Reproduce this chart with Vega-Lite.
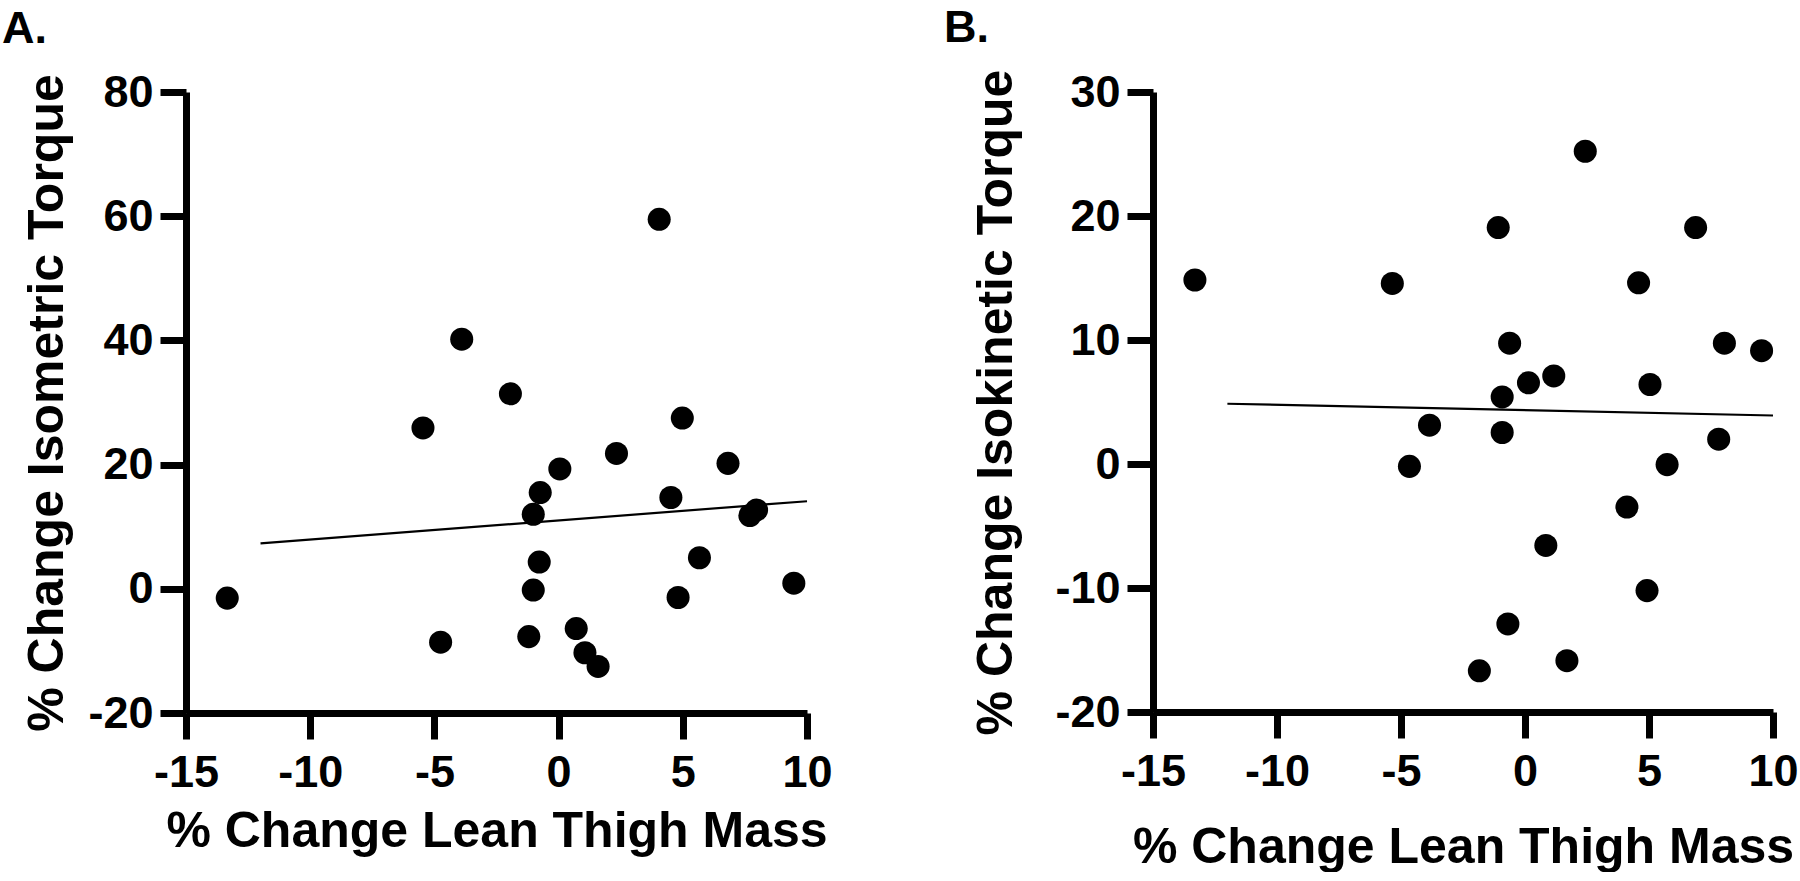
{
  "$schema": "https://vega.github.io/schema/vega-lite/v6.json",
  "padding": {"left": 2, "top": 6, "right": 0, "bottom": 0},
  "background": "white",
  "bounds": "flush",
  "spacing": 346,
  "config": {
    "view": {"stroke": null},
    "font": "Liberation Sans",
    "axis": {
      "domainColor": "black", "domainWidth": 7,
      "tickColor": "black", "tickWidth": 7, "tickSize": 26,
      "labelFont": "Liberation Sans", "labelFontWeight": "bold", "labelFontSize": 45, "labelColor": "black",
      "titleFont": "Liberation Sans", "titleFontWeight": "bold", "titleFontSize": 50, "titleColor": "black",
      "grid": false, "labelFlush": false, "labelOverlap": false
    },
    "title": {"font": "Liberation Sans", "fontWeight": "bold", "fontSize": 45, "color": "black", "anchor": "start", "frame": "group"}
  },
  "datasets": {
    "ptsA": [
      {"lean": -13.34, "torque": -1.5},
      {"lean": -5.46, "torque": 25.9},
      {"lean": -4.75, "torque": -8.6},
      {"lean": -3.9, "torque": 40.2},
      {"lean": -1.94, "torque": 31.4},
      {"lean": -0.74, "torque": 15.5},
      {"lean": -1.02, "torque": 12.0},
      {"lean": -0.78, "torque": 4.3},
      {"lean": -1.02, "torque": -0.2},
      {"lean": -1.2, "torque": -7.7},
      {"lean": 0.05, "torque": 19.3},
      {"lean": 0.71, "torque": -6.4},
      {"lean": 1.06, "torque": -10.3},
      {"lean": 1.59, "torque": -12.5},
      {"lean": 2.33, "torque": 21.8},
      {"lean": 4.05, "torque": 59.5},
      {"lean": 4.52, "torque": 14.7},
      {"lean": 4.98, "torque": 27.5},
      {"lean": 4.81, "torque": -1.4},
      {"lean": 6.82, "torque": 20.2},
      {"lean": 5.67, "torque": 5.0},
      {"lean": 7.7, "torque": 11.8},
      {"lean": 7.97, "torque": 12.7},
      {"lean": 9.47, "torque": 0.9}
    ],
    "lineA": [
      {"lean": -12, "torque": 7.3},
      {"lean": 10, "torque": 14.1}
    ],
    "ptsB": [
      {"lean": -13.31, "torque": 14.84},
      {"lean": -5.35, "torque": 14.56},
      {"lean": -4.66, "torque": -0.19},
      {"lean": -3.85, "torque": 3.13},
      {"lean": -1.84, "torque": -16.68},
      {"lean": -1.08, "torque": 19.07},
      {"lean": -0.92, "torque": 5.41},
      {"lean": -0.92, "torque": 2.54},
      {"lean": -0.62, "torque": 9.74},
      {"lean": -0.69, "torque": -12.9},
      {"lean": 0.14, "torque": 6.55},
      {"lean": 0.84, "torque": -6.57},
      {"lean": 1.16, "torque": 7.1},
      {"lean": 1.69, "torque": -15.86},
      {"lean": 2.43, "torque": 25.22},
      {"lean": 4.11, "torque": -3.47},
      {"lean": 4.58, "torque": 14.61},
      {"lean": 4.92, "torque": -10.21},
      {"lean": 5.04, "torque": 6.41},
      {"lean": 5.73, "torque": -0.05},
      {"lean": 6.88, "torque": 19.07},
      {"lean": 7.81, "torque": 2.0},
      {"lean": 8.04, "torque": 9.74},
      {"lean": 9.54, "torque": 9.14}
    ],
    "lineB": [
      {"lean": -12, "torque": 4.86},
      {"lean": 10, "torque": 3.91}
    ]
  },
  "hconcat": [
    {
      "title": {"text": "A.", "dx": -184, "offset": 18},
      "width": 621,
      "height": 621,
      "layer": [
        {
          "data": {"name": "lineA"},
          "mark": {"type": "line", "color": "black", "strokeWidth": 2.2},
          "encoding": {
            "x": {"field": "lean", "type": "quantitative"},
            "y": {"field": "torque", "type": "quantitative"}
          }
        },
        {
          "data": {"name": "ptsA"},
          "mark": {"type": "circle", "size": 531, "color": "black", "opacity": 1},
          "encoding": {
            "x": {"field": "lean", "type": "quantitative",
              "scale": {"domain": [-15, 10], "nice": false, "zero": false},
              "axis": {"values": [-15, -10, -5, 0, 5, 10], "title": "% Change Lean Thigh Mass",
                "labelPadding": 11, "titlePadding": 11, "labelExpr": "datum.value + ''"}},
            "y": {"field": "torque", "type": "quantitative",
              "scale": {"domain": [-20, 80], "nice": false, "zero": false},
              "axis": {"values": [-20, 0, 20, 40, 60, 80], "title": "% Change Isometric Torque",
                "labelPadding": 7, "titlePadding": 15, "labelExpr": "datum.value + ''"}}
          }
        }
      ]
    },
    {
      "title": {"text": "B.", "dx": -209, "offset": 18},
      "width": 620,
      "height": 620,
      "layer": [
        {
          "data": {"name": "lineB"},
          "mark": {"type": "line", "color": "black", "strokeWidth": 2.2},
          "encoding": {
            "x": {"field": "lean", "type": "quantitative"},
            "y": {"field": "torque", "type": "quantitative"}
          }
        },
        {
          "data": {"name": "ptsB"},
          "mark": {"type": "circle", "size": 531, "color": "black", "opacity": 1},
          "encoding": {
            "x": {"field": "lean", "type": "quantitative",
              "scale": {"domain": [-15, 10], "nice": false, "zero": false},
              "axis": {"values": [-15, -10, -5, 0, 5, 10], "title": "% Change Lean Thigh Mass",
                "labelPadding": 11, "titlePadding": 28, "labelExpr": "datum.value + ''"}},
            "y": {"field": "torque", "type": "quantitative",
              "scale": {"domain": [-20, 30], "nice": false, "zero": false},
              "axis": {"values": [-20, -10, 0, 10, 20, 30], "title": "% Change Isokinetic Torque",
                "labelPadding": 7, "titlePadding": 33, "labelExpr": "datum.value + ''"}}
          }
        }
      ]
    }
  ]
}
